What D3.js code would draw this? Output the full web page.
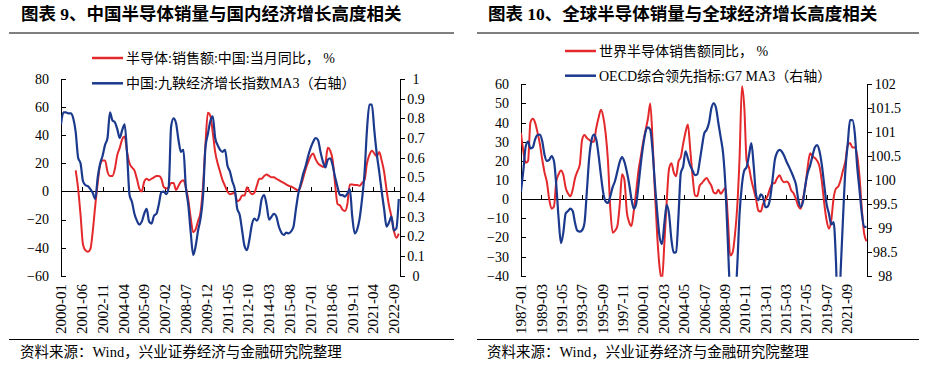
<!DOCTYPE html>
<html>
<head>
<meta charset="utf-8">
<script src="https://cdn.jsdelivr.net/npm/d3@7"></script>
<style>
  body { margin: 0; background: #fff; }
  svg text { font-family: "Liberation Serif", "Noto Sans CJK SC", serif; fill: #000; }
  .title { font-size: 17.5px; font-weight: bold; }
  .legend { font-size: 14px; }
  .source { font-size: 14.5px; }
  .tick text { font-size: 14px; }
  .cat { font-size: 15px; }
</style>
</head>
<body>
<svg id="chart" width="925" height="368"></svg>
<script>
// tick labels of the category axes
var cnCats = ["2000-01","2001-06","2002-11","2004-04","2005-09","2007-02","2008-07","2009-12","2011-05",
  "2012-10","2014-03","2015-08","2017-01","2018-06","2019-11","2021-04","2022-09"];
var wdCats = ["1987-01","1989-03","1991-05","1993-07","1995-09","1997-11","2000-01","2002-03","2004-05",
  "2006-07","2008-09","2010-11","2013-01","2015-03","2017-05","2019-07","2021-09"];

// China: semiconductor sales yoy (%), every 2 months from 2001-01
var cnSemi = [15, 2, -17, -38, -42, -43, -41, -28, -10, 6,
  19, 22, 22, 14, 11, 11, 16, 26, 31, 37,
  39, 28, 20, 17, 15, 9, 2, 0, 7, 9,
  8, 9, 10, 11, 11, 9, 3, 2, 3, 6,
  6, 1, 4, 7, 8, 3, -6, -19, -29, -27,
  -21, -15, 3, 33, 56, 54, 42, 28, 20, 14,
  8, 4, 0, -2, -1.5, -1, -7, -6, -3, -3,
  3, 0, -2, -1, 4, 9, 9, 11, 12, 11,
  10, 10, 9, 8, 7, 6, 5, 4, 3.5, 2.5,
  1.5, 0.5, 4, 10, 16, 21, 25, 27, 23, 20,
  18.5, 17.5, 20, 31, 29, 22, 5, -9, -10, -13,
  -14, -9, 5, 5, 4.5, 4.5, 4, 6, 8, 20,
  26, 29, 27, 25, 28, 22, 14, 1, -10, -18,
  -28, -33, -30];
// China: Jiuyuan growth index MA3 (right axis), every 2 months from 2000-01
var cnIndex = [0.77, 0.83, 0.83, 0.825, 0.825, 0.80, 0.73, 0.60, 0.57, 0.48,
  0.46, 0.455, 0.44, 0.42, 0.39, 0.50, 0.57, 0.61, 0.665, 0.70,
  0.83, 0.79, 0.78, 0.745, 0.70, 0.74, 0.77, 0.62, 0.41, 0.375,
  0.315, 0.28, 0.26, 0.275, 0.315, 0.34, 0.275, 0.265, 0.305, 0.315,
  0.365, 0.425, 0.427, 0.415, 0.45, 0.76, 0.80, 0.775, 0.69, 0.63,
  0.64, 0.45, 0.36, 0.22, 0.105, 0.15, 0.23, 0.29, 0.40, 0.65,
  0.72, 0.785, 0.81, 0.70, 0.664, 0.64, 0.63, 0.64, 0.56, 0.53,
  0.48, 0.44, 0.34, 0.31, 0.23, 0.15, 0.13, 0.185, 0.26, 0.29,
  0.28, 0.31, 0.39, 0.41, 0.36, 0.285, 0.30, 0.315, 0.30, 0.25,
  0.22, 0.207, 0.219, 0.215, 0.225, 0.25, 0.34, 0.42, 0.47, 0.52,
  0.56, 0.61, 0.65, 0.68, 0.70, 0.69, 0.63, 0.58, 0.55, 0.59,
  0.597, 0.56, 0.50, 0.45, 0.41, 0.41, 0.402, 0.418, 0.44, 0.30,
  0.215, 0.235, 0.29, 0.39, 0.52, 0.74, 0.87, 0.87, 0.74, 0.62,
  0.53, 0.43, 0.34, 0.25, 0.27, 0.30, 0.23, 0.24, 0.39];

// World semiconductor sales yoy (%), every 3 months from 1987-01
var wdSemi = [34.5, 25, 19, 20, 40, 42, 40, 35, 29, 21,
  14, 9, 0, -5, -4, 9, 13, 15, 12.7, 6,
  3, 1.5, 5, 11, 14.5, 18, 31, 33.5, 32, 31,
  30, 30, 37, 42.5, 46.7, 43, 34.5, 20, -5, -17.5,
  -16.5, -14, -3, 13, 10, -6.5, -12, -14, -6, 4,
  15, 22.5, 30, 36, 42, 50, 30, 3, -20, -36,
  -42, -23, -1, 16, 18.8, 14, 12, 19.7, 22, 29,
  35, 39, 26, 12, 2, 1.5, 7, 8.4, 10, 11,
  9, 7, 3.5, 3, 4.9, 2.8, 4.5, 6, -10, -29.5,
  -28, -19, -4, 22, 59, 48, 20, 16.5, 10, 5,
  0, -6, -6.5, -2.5, -0.5, 2, 5.7, 8, 8.5, 11,
  12.5, 10, 8.8, 9.2, 8, 4.5, 3, 0, -3.8, -5,
  0.5, 7, 17, 24, 22.3, 21.5, 20, 17, 9.2, -2,
  -11, -15.5, -11, 0.5, 5.5, 6.6, 10, 15, 19.7, 28,
  29.3, 27, 27, 23, 12, -5, -18, -22];
// OECD composite leading indicator G7 MA3 (right axis), every 3 months from 1987-01
var g7Cli = [99.76, 100.2, 100.7, 100.8, 100.66, 100.68, 100.85, 100.94, 100.95, 100.82,
  100.53, 100.4, 100.42, 100.5, 100.4, 99.9, 99.2, 98.68, 98.9, 99.3,
  99.35, 99.4, 99.35, 99.1, 98.94, 98.92, 98.95, 99.1, 99.75, 100.45,
  100.83, 100.95, 100.85, 100.52, 100.1, 99.73, 99.55, 99.52, 99.66, 99.85,
  99.98, 100.18, 100.38, 100.48, 100.38, 100.18, 99.92, 99.6, 99.4, 99.5,
  99.9, 100.35, 100.73, 101.01, 101.1, 101.05, 100.6, 99.9, 99.3, 98.8,
  98.66, 99.1, 99.48, 99.28, 98.75, 98.48, 98.5, 99.25, 100.15, 100.28,
  100.6, 100.45, 100.3, 100.2, 100.1, 100.12, 100.38, 100.7, 100.98, 101.05,
  101.2, 101.5, 101.6, 101.5, 101.18, 100.88, 100.55, 99.85, 98.7, 97.6,
  97.3, 97.4, 98.2, 99.3, 99.9, 100.2, 100.27, 100.52, 100.77, 100.3,
  99.7, 99.58, 99.7, 99.64, 99.43, 99.45, 99.62, 100.0, 100.42, 100.58,
  100.63, 100.59, 100.5, 100.38, 100.28, 100.17, 100.05, 99.9, 99.58, 99.44,
  99.55, 99.9, 100.15, 100.3, 100.5, 100.68, 100.73, 100.6, 100.31, 99.9,
  99.5, 99.3, 99.07, 99.12, 98.3, 96.8, 98.1, 99.2, 100.2, 100.75,
  101.25, 101.25, 100.98, 100.3, 99.8, 99.3, 99.02, 99.02];

var RED = "#e3292b", BLUE = "#1b3a8e";
var svg = d3.select("#chart");

function monthIndex(label, origin) {
  var a = label.split("-"), b = origin.split("-");
  return (+a[0] - +b[0]) * 12 + (+a[1] - +b[1]);
}

function toPoints(values, start, step, origin) {
  var s = monthIndex(start, origin);
  return values.map(function (v, k) { return {i: s + k * step, v: v}; });
}

function drawPanel(p) {
  var g = svg.append("g");

  // title, rules, source
  g.append("text").attr("class", "title").attr("x", p.titleX).attr("y", 20).text(p.title);
  [33, 339.5].forEach(function (yy) {
    g.append("line").attr("x1", p.ruleX[0]).attr("x2", p.ruleX[1])
      .attr("y1", yy).attr("y2", yy)
      .attr("stroke", "#000").attr("stroke-width", 1.2);
  });
  g.append("text").attr("class", "source").attr("x", p.sourceX).attr("y", 357)
    .text("资料来源：Wind，兴业证券经济与金融研究院整理");

  var x = d3.scaleLinear().domain([0, p.nMonths]).range([p.left, p.right]);
  var yL = d3.scaleLinear().domain(p.leftDomain).range([p.bottom, p.top]);
  var yR = d3.scaleLinear().domain(p.rightDomain).range([p.bottom, p.top]);

  // left axis, ticks inside
  g.append("g")
    .attr("transform", "translate(" + p.left + ",0)")
    .call(d3.axisLeft(yL).tickValues(p.leftTicks).tickSize(-5).tickSizeOuter(0).tickPadding(12));

  // right axis, ticks outside, labels centred
  var ra = g.append("g")
    .attr("transform", "translate(" + p.right + ",0)")
    .call(d3.axisRight(yR).tickValues(p.rightTicks).tickSize(5).tickSizeOuter(0)
      .tickFormat(function (d) { return +d.toFixed(1); }));
  ra.selectAll("text").attr("text-anchor", "middle").attr("x", p.rightLabelDx);

  // category axis on the zero line, ticks upward
  var catIdx = p.cats.map(function (c) { return monthIndex(c, p.origin); });
  g.append("g")
    .attr("transform", "translate(0," + yL(0) + ")")
    .call(d3.axisBottom(x).tickValues(catIdx).tickSize(-4).tickSizeOuter(0).tickFormat(""));

  g.selectAll(".domain, .tick line").attr("stroke", "#000").attr("shape-rendering", "crispEdges");

  // category labels at the bottom
  g.append("g").selectAll("text")
    .data(p.cats)
    .enter()
    .append("text")
    .attr("class", "cat")
    .attr("transform", function (d) {
      return "translate(" + x(monthIndex(d, p.origin)) + "," + 284 + ") rotate(-90)";
    })
    .attr("text-anchor", "end")
    .attr("dy", "0.35em")
    .text(function (d) { return d; });

  // series
  g.append("clipPath").attr("id", p.id)
    .append("rect").attr("x", p.left).attr("y", p.top - 1)
    .attr("width", p.right - p.left).attr("height", p.bottom - p.top + 2);

  var lineL = d3.line().curve(d3.curveMonotoneX)
    .x(function (d) { return x(d.i); }).y(function (d) { return yL(d.v); });
  var lineR = d3.line().curve(d3.curveMonotoneX)
    .x(function (d) { return x(d.i); }).y(function (d) { return yR(d.v); });

  g.append("path").datum(p.red).attr("clip-path", "url(#" + p.id + ")")
    .attr("fill", "none").attr("stroke", RED).attr("stroke-width", 2).attr("d", lineL);
  g.append("path").datum(p.blue).attr("clip-path", "url(#" + p.id + ")")
    .attr("fill", "none").attr("stroke", BLUE).attr("stroke-width", 2.2).attr("d", lineR);

  // legend
  var items = [{c: RED, t: p.redName, y: p.legendY[0]}, {c: BLUE, t: p.blueName, y: p.legendY[1]}];
  items.forEach(function (it) {
    g.append("line").attr("x1", p.legendX).attr("x2", p.legendX + 31)
      .attr("y1", it.y).attr("y2", it.y).attr("stroke", it.c).attr("stroke-width", 2.5);
    g.append("text").attr("class", "legend").attr("x", p.legendX + 34).attr("y", it.y)
      .attr("dy", "0.35em").text(it.t);
  });
}

drawPanel({
  id: "clipCn", origin: "2000-01", nMonths: 277,
  left: 61, right: 400, top: 79, bottom: 275.7,
  leftDomain: [-60, 80], rightDomain: [0, 1],
  leftTicks: [-60, -40, -20, 0, 20, 40, 60, 80],
  rightTicks: [0, 0.1, 0.2, 0.3, 0.4, 0.5, 0.6, 0.7, 0.8, 0.9, 1],
  rightLabelDx: 16,
  cats: cnCats,
  red: toPoints(cnSemi, "2001-01", 2, "2000-01"),
  blue: toPoints(cnIndex, "2000-01", 2, "2000-01"),
  redName: "半导体:销售额:中国:当月同比， %",
  blueName: "中国:九鞅经济增长指数MA3（右轴）",
  legendX: 92, legendY: [58, 83.3],
  title: "图表 9、中国半导体销量与国内经济增长高度相关", titleX: 21,
  ruleX: [9, 454], sourceX: 20
});

drawPanel({
  id: "clipWd", origin: "1987-01", nMonths: 442,
  left: 521, right: 867.3, top: 84.3, bottom: 275.7,
  leftDomain: [-40, 60], rightDomain: [98, 102],
  leftTicks: [-40, -30, -20, -10, 0, 10, 20, 30, 40, 50, 60],
  rightTicks: [98, 98.5, 99, 99.5, 100, 100.5, 101, 101.5, 102],
  rightLabelDx: 18,
  cats: wdCats,
  red: toPoints(wdSemi, "1987-01", 3, "1987-01"),
  blue: toPoints(g7Cli, "1987-01", 3, "1987-01"),
  redName: "世界半导体销售额同比， %",
  blueName: "OECD综合领先指标:G7 MA3（右轴）",
  legendX: 565, legendY: [51, 75.7],
  title: "图表 10、全球半导体销量与全球经济增长高度相关", titleX: 488,
  ruleX: [477, 919], sourceX: 487
});
</script>
</body>
</html>
